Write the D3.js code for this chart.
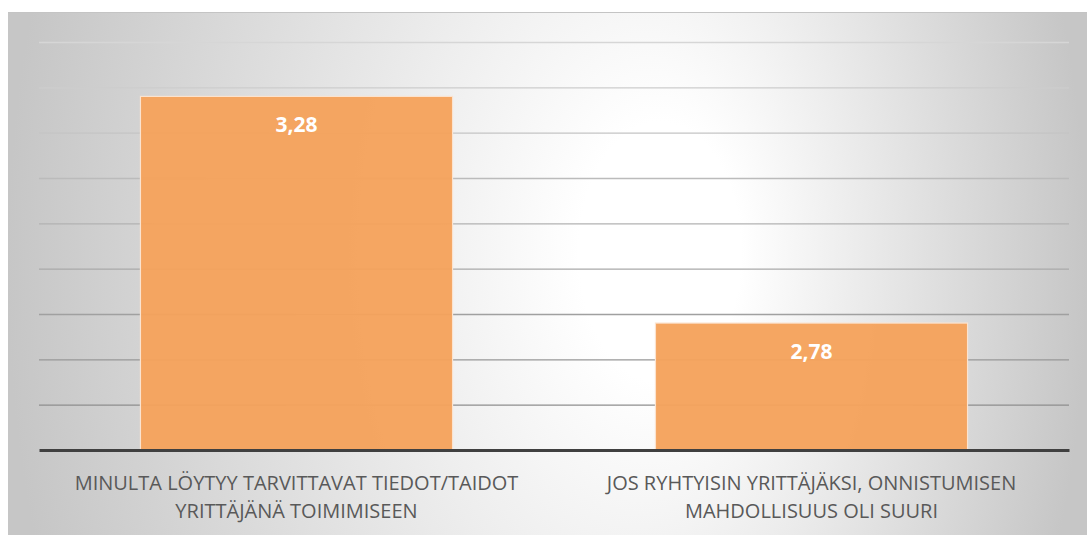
<!DOCTYPE html>
<html>
<head>
<meta charset="utf-8">
<script src="https://cdn.jsdelivr.net/npm/d3@7"></script>
<style>
  html, body { margin: 0; padding: 0; background: #ffffff; }
  svg { display: block; }
</style>
</head>
<body>
<svg id="chart" width="1087" height="535"></svg>
<script>
// ---- data ----
const categories = [
  "MINULTA LÖYTYY TARVITTAVAT TIEDOT/TAIDOT YRITTÄJÄNÄ TOIMIMISEEN",
  "JOS RYHTYISIN YRITTÄJÄKSI, ONNISTUMISEN MAHDOLLISUUS OLI SUURI"
];
const categoryLines = [
  ["MINULTA LÖYTYY TARVITTAVAT TIEDOT/TAIDOT", "YRITTÄJÄNÄ TOIMIMISEEN"],
  ["JOS RYHTYISIN YRITTÄJÄKSI, ONNISTUMISEN", "MAHDOLLISUUS OLI SUURI"]
];
const values = [3.28, 2.78];
const yDomain = [2.5, 3.4];
const yTicks = [2.6, 2.7, 2.8, 2.9, 3.0, 3.1, 3.2, 3.3, 3.4];

// ---- layout ----
const W = 1087, H = 535;
const plot = { left: 39, right: 1069, top: 42, bottom: 450 };

const svg = d3.select("#chart");
const defs = svg.append("defs");

const bg = defs.append("radialGradient")
  .attr("id", "bg")
  .attr("gradientUnits", "userSpaceOnUse")
  .attr("cx", 547).attr("cy", 267).attr("r", 540)
  .attr("fx", 680).attr("fy", 256)
  .attr("gradientTransform", "translate(0,267) scale(1,1.6) translate(0,-267)");
bg.append("stop").attr("offset", 0).attr("stop-color", "#ffffff");
bg.append("stop").attr("offset", 0.15).attr("stop-color", "#ffffff");
bg.append("stop").attr("offset", 1).attr("stop-color", "#c6c6c6");

// chart background
svg.append("rect")
  .attr("x", 8).attr("y", 12)
  .attr("width", W - 8).attr("height", H - 12)
  .attr("fill", "url(#bg)");
svg.append("line")
  .attr("x1", 8).attr("x2", W).attr("y1", 12.5).attr("y2", 12.5)
  .attr("stroke", "#c4c4c4").attr("stroke-width", 1);

const x = d3.scaleBand()
  .domain(categories)
  .range([plot.left, plot.right])
  .paddingInner(0.394)
  .paddingOuter(0.197);

const y = d3.scaleLinear().domain(yDomain).range([plot.bottom, plot.top]);

// gridlines (colour darkens toward bottom)
const gridColor = d3.scaleLinear()
  .domain([plot.top, plot.bottom - 45])
  .range(["#d6d6d6", "#8e8e8e"]);

const yAxis = d3.axisLeft(y).tickValues(yTicks).tickSize(-(plot.right - plot.left)).tickFormat("");
const gAxis = svg.append("g")
  .attr("transform", `translate(${plot.left},0)`)
  .call(yAxis);
gAxis.select(".domain").remove();
gAxis.selectAll(".tick line")
  .attr("stroke", d => gridColor(y(d)))
  .attr("stroke-width", 1.3);

// bars
svg.append("g").selectAll("rect")
  .data(values)
  .join("rect")
  .attr("x", (d, i) => x(categories[i]))
  .attr("y", d => y(d))
  .attr("width", x.bandwidth())
  .attr("height", d => y(yDomain[0]) - y(d))
  .attr("fill", "#f5a25c")
  .attr("fill-opacity", 0.96)
  .attr("stroke", "#fbe3cf")
  .attr("stroke-width", 1.2);

// x axis baseline
const xAxis = d3.axisBottom(x).tickSize(0).tickFormat("");
const gX = svg.append("g")
  .attr("transform", `translate(0,${y(yDomain[0])})`)
  .call(xAxis);
gX.select(".domain")
  .attr("stroke", "#404040")
  .attr("stroke-width", 3);

// value labels
const fi = d3.formatLocale({ decimal: ",", thousands: " ", grouping: [3], currency: ["", "€"] });
const fmt = fi.format(".2f");
svg.append("g").selectAll("text")
  .data(values)
  .join("text")
  .attr("x", (d, i) => x(categories[i]) + x.bandwidth() / 2)
  .attr("y", d => y(d) + 36)
  .attr("text-anchor", "middle")
  .attr("font-family", "'Open Sans', sans-serif")
  .attr("font-weight", 700)
  .attr("font-size", 21)
  .attr("fill", "#ffffff")
  .text(d => fmt(d));

// category labels
const gCat = svg.append("g");
categoryLines.forEach((lines, i) => {
  const cx = x(categories[i]) + x.bandwidth() / 2;
  lines.forEach((ln, j) => {
    gCat.append("text")
      .attr("x", cx)
      .attr("y", 490 + j * 28)
      .attr("text-anchor", "middle")
      .attr("font-family", "'Open Sans', sans-serif")
      .attr("font-size", 20)
      .attr("fill", "#595959")
      .text(ln);
  });
});
</script>
</body>
</html>
